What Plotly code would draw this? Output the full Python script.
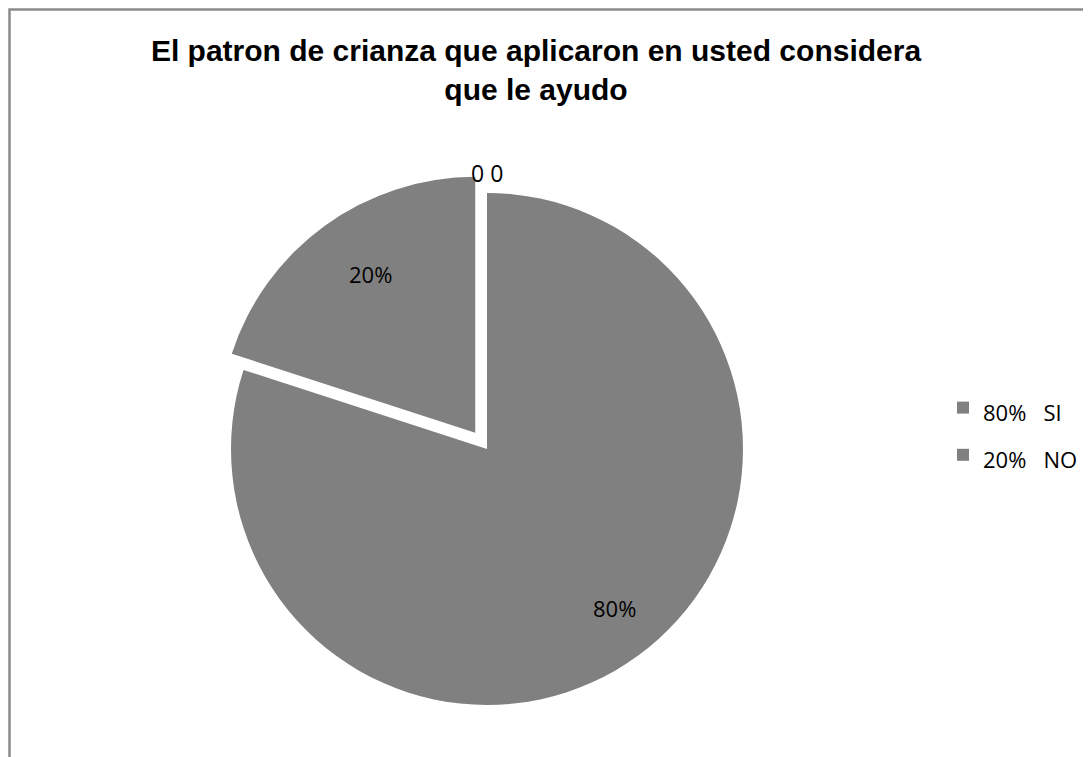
import math

import plotly.graph_objects as go

# respuestas y porcentajes
categories = ["SI", "NO"]
values = [80, 20]
pct_labels = ["80%", "20%"]
zero_values = [0, 0]

GRAY = "#808080"
W, H = 1091, 757
LABEL_FONT = "Open Sans"

legend_names = [
    f"<span style='font-size:22px'>{p}\u00a0\u00a0\u00a0{c}</span>"
    for p, c in zip(pct_labels, categories)
]

pull = 0.078
cx, cy, r = 479, 441, 256  # pie centre / radius in px (page is offset by the body margin)
R = r * (1 + pull)


def paper(px, py):
    return px / W, 1 - py / H


def bisector_point(frac, dist, extra=0.0):
    # clockwise from 12 o'clock, screen y grows downward
    theta = 2 * math.pi * frac
    d = dist + extra
    return cx + d * math.sin(theta), cy - d * math.cos(theta)


fig = go.Figure()
fig.add_trace(
    go.Pie(
        labels=legend_names,
        values=values,
        sort=False,
        direction="clockwise",
        rotation=0,
        pull=[0, pull],
        textinfo="none",
        marker=dict(colors=[GRAY, GRAY], line=dict(width=0)),
        domain=dict(
            x=[(cx - R) / W, (cx + R) / W],
            y=[(H - cy - R) / H, (H - cy + R) / H],
        ),
        hoverinfo="percent",
    )
)

# percentage labels along each slice bisector
total = sum(values)
start = 0.0
for v, txt, p in zip(values, pct_labels, [0, pull]):
    frac = v / total
    mid = start + frac / 2
    x, y = paper(*bisector_point(mid, 0.85 * r, p * r))
    fig.add_annotation(
        text=txt, x=x, y=y, xref="paper", yref="paper", showarrow=False,
        font=dict(family=LABEL_FONT, size=22, color="black"),
    )
    start += frac

# zero-valued entries sit at the top of the pie
zx, zy = paper(*bisector_point(start, 1.15 * r))
fig.add_annotation(
    text=" ".join(str(v) for v in zero_values),
    x=zx, y=zy, xref="paper", yref="paper", showarrow=False,
    font=dict(family=LABEL_FONT, size=23, color="black"),
)

fig.add_shape(
    type="rect",
    xref="paper",
    yref="paper",
    x0=1.5 / W,
    x1=1.1,
    y0=-0.1,
    y1=1 - 1.5 / H,
    line=dict(color="#8a8a8a", width=2.5),
    layer="below",
)

fig.update_layout(
    width=W,
    height=H,
    margin=dict(l=0, r=0, t=0, b=0),
    paper_bgcolor="white",
    plot_bgcolor="white",
    title=dict(
        text="El patron de crianza que aplicaron en usted considera<br>que le ayudo",
        x=528 / W,
        xanchor="center",
        y=1 - 53 / H,
        yanchor="top",
        font=dict(family="Liberation Sans", size=30, color="black", weight="bold"),
    ),
    legend=dict(
        x=935 / W,
        y=1 - 371 / H,
        xanchor="left",
        yanchor="top",
        font=dict(family=LABEL_FONT, size=34, color="black"),
        bgcolor="rgba(0,0,0,0)",
    ),
    showlegend=True,
)

fig.write_html("out.html")
